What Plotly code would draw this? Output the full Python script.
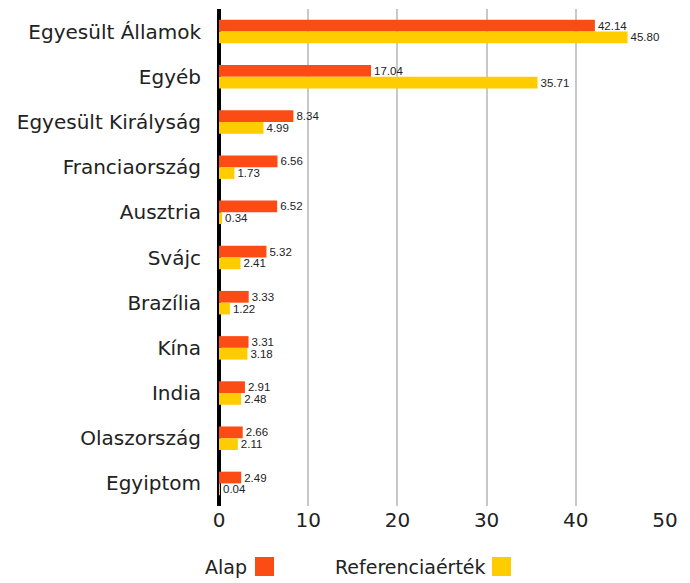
import plotly.graph_objects as go

categories = ["Egyesült Államok", "Egyéb", "Egyesült Királyság", "Franciaország", "Ausztria",
              "Svájc", "Brazília", "Kína", "India", "Olaszország", "Egyiptom"]
alap = [42.14, 17.04, 8.34, 6.56, 6.52, 5.32, 3.33, 3.31, 2.91, 2.66, 2.49]
referencia = [45.80, 35.71, 4.99, 1.73, 0.34, 2.41, 1.22, 3.18, 2.48, 2.11, 0.04]
series_names = ["Alap", "Referenciaérték"]
colors = ["#FC4C16", "#FFCC00"]

FONT = "DejaVu Sans"
LABEL_FONT = "Liberation Sans"
W, H = 690, 583
ml, mr, mt, mb = 219, 25, 9, 77
pw, ph = W - ml - mr, H - mt - mb

fig = go.Figure()
for name, vals, col in zip(series_names, [alap, referencia], colors):
    fig.add_trace(go.Bar(
        y=categories, x=vals, orientation="h", name=name,
        marker=dict(color=col, line=dict(width=0)),
        texttemplate="%{x:.2f}", textposition="outside",
        textfont=dict(size=11.5, color="#222222", family=LABEL_FONT),
        constraintext="none", cliponaxis=False,
    ))

def px_x(p):
    return (p - ml) / pw

def px_y(p):
    return (mt + ph - p) / ph

shapes = []
annotations = []
legend_items = [("Alap", colors[0], 249, 255), ("Referenciaérték", colors[1], 488, 492)]
for txt, col, tx, sx in legend_items:
    annotations.append(dict(text=txt, x=px_x(tx), y=px_y(567), xref="paper", yref="paper",
                            xanchor="right", yanchor="middle", showarrow=False,
                            font=dict(size=19, color="#222222", family=FONT)))
    shapes.append(dict(type="rect", xref="paper", yref="paper",
                       x0=px_x(sx), x1=px_x(sx + 19), y0=px_y(576), y1=px_y(557),
                       fillcolor=col, line=dict(width=0)))

fig.update_layout(
    width=W, height=H,
    margin=dict(l=ml, r=mr, t=mt, b=mb, autoexpand=False),
    barmode="group", bargap=0.48, bargroupgap=0,
    plot_bgcolor="white", paper_bgcolor="white",
    showlegend=False,
    font=dict(family=FONT, size=20, color="#222222"),
    xaxis=dict(range=[0, 50], dtick=10, showgrid=True, gridcolor="#C8C8C8", gridwidth=2,
               zeroline=True, zerolinecolor="#000000", zerolinewidth=4, automargin=False,
               tickfont=dict(size=20, color="#222222"), ticks="", fixedrange=True),
    yaxis=dict(autorange="reversed", showgrid=False, ticks="", ticklabelstandoff=17,
               automargin=False, tickfont=dict(size=20, color="#222222")),
    shapes=shapes, annotations=annotations,
)

fig.write_html("out.html", config={"displayModeBar": False},
               post_script="document.body.style.margin='0';")
